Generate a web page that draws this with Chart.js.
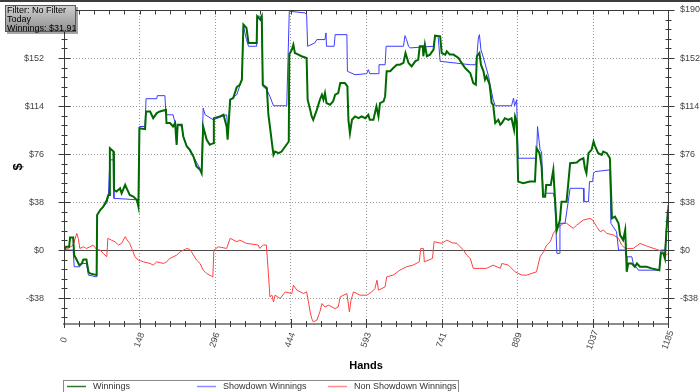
<!DOCTYPE html>
<html>
<head>
<meta charset="utf-8">
<script src="https://cdn.jsdelivr.net/npm/chart.js@4.4.0/dist/chart.umd.min.js"></script>
<style>
  html, body { margin: 0; padding: 0; background: #fff; }
</style>
</head>
<body>
<canvas id="chart" width="700" height="392"></canvas>
<script>
// values: [hand, dollars]
const winnings = [[0,0],[4,2.6],[10,2.6],[12,10],[18,10],[20,-4],[25,-7.9],[30,-11.9],[35,-10.6],[38,-7.4],[44,-7.4],[48,-17.2],[51,-18.5],[64,-19.8],[65,27.8],[71,31.7],[77,34.4],[84,39.7],[87,43.6],[89,43.6],[90,80.6],[97,78],[98,47.6],[103,46.3],[110,48.9],[113,44.9],[120,51.6],[123,48.9],[129,43.6],[136,42.3],[143,39.7],[146,34.4],[148,96.5],[159,95.7],[161,109.7],[169,109.7],[175,104.4],[182,108.4],[188,109.7],[200,111],[201,100.5],[208,100.5],[214,97.8],[218,100.5],[221,83.3],[223,99.2],[231,99.2],[234,89.9],[241,82],[247,79.3],[254,74],[260,66.1],[267,63.5],[270,60.8],[273,97.8],[280,87.3],[286,83.3],[293,84.6],[294,104.4],[306,105.8],[313,107.1],[319,97.8],[321,87.3],[326,119],[332,120.3],[339,129],[345,130.9],[349,134.8],[352,178.5],[358,175.8],[362,163.9],[378,163.9],[379,185.1],[385,182.4],[388,185.1],[390,130.9],[398,128.2],[401,107.1],[404,97.8],[408,84.6],[411,75.4],[414,78],[421,76.7],[427,78],[434,82],[441,85.9],[442,154.7],[447,158.6],[450,162.6],[453,156],[460,154.7],[466,153.4],[476,152],[478,119],[483,111],[486,105.8],[489,103.1],[496,111],[502,119],[506,123],[509,119],[512,124.3],[515,116.3],[522,115],[528,117.7],[532,123],[538,124.3],[542,132.2],[551,132.2],[556,129.6],[558,103.1],[561,92.5],[565,103.1],[571,105.8],[578,104.4],[584,105.8],[591,104.4],[597,107.1],[600,103.1],[607,103.1],[613,113.7],[617,105.8],[620,116.3],[627,117.7],[630,121.6],[633,141.5],[640,141.5],[646,144.1],[653,146.7],[659,146.7],[666,148.1],[670,156],[676,148.1],[682,145.4],[689,149.4],[695,150.7],[698,161.3],[704,161.3],[705,153.4],[708,162.6],[712,153.4],[718,154.7],[725,158.6],[728,169.7],[738,169.2],[741,156],[748,154.7],[751,157.3],[757,154.7],[764,154.7],[774,152],[780,148.1],[787,144.1],[797,140.1],[803,132.2],[808,130.9],[810,153.4],[815,156],[818,146.7],[823,141.5],[826,134.8],[829,137.5],[835,130.9],[839,116.3],[842,115],[846,100.5],[852,103.1],[856,99.2],[859,100.5],[865,104.4],[872,103.1],[878,104.4],[883,95.2],[885,105.8],[888,101.8],[891,54.2],[901,52.9],[914,54.2],[924,54.2],[927,80.6],[933,76.7],[937,66.1],[940,42.3],[944,42.3],[946,51.6],[955,51.6],[960,63.5],[963,42.3],[967,15.9],[973,23.8],[976,38.3],[986,38.3],[993,68.7],[1006,69.3],[1012,71.4],[1019,72.7],[1022,64.8],[1025,60.8],[1029,76.7],[1035,79.3],[1039,85.9],[1042,82],[1048,76.7],[1055,75.4],[1058,78],[1065,76.7],[1071,72.7],[1075,25.1],[1081,26.4],[1088,21.2],[1091,11.9],[1097,7.9],[1101,15.9],[1103,-5.3],[1104,-17.2],[1107,-10.6],[1114,-10.6],[1120,-13.2],[1124,-10.6],[1130,-13.2],[1143,-13.2],[1153,-14.5],[1168,-15.9],[1171,-2.6],[1176,-2.6],[1179,-6.6],[1182,15.9],[1185,31.91]];

const showdown = [[0,0],[18,0],[20,-13.2],[31,-13.2],[35,-10.6],[44,-10.6],[48,-19.8],[64,-21.2],[65,27.8],[71,31.7],[84,37],[87,42.3],[90,71.4],[97,71.4],[98,41],[146,39.7],[148,97.8],[159,97.8],[161,119.8],[182,119.8],[183,122.2],[198,122.2],[200,107.1],[214,107.1],[218,100.5],[221,83.3],[223,99.2],[231,97.8],[234,89.9],[241,82],[254,74],[270,62.1],[273,112.4],[277,107.1],[293,103.1],[319,107.1],[322,93.9],[326,119],[339,123],[349,134.8],[352,177.2],[358,166.6],[362,161.3],[378,161.3],[379,185.1],[388,185.1],[390,129.6],[398,126.9],[404,121.6],[411,114.2],[437,114.2],[442,189],[473,187.7],[476,186.4],[478,161.3],[492,163.9],[496,166.6],[512,166.6],[514,171.9],[515,161.3],[530,161.3],[532,170.5],[555,170.5],[556,141.5],[571,138.8],[594,139.6],[597,142.8],[600,139.6],[617,139.6],[618,146.7],[630,146.7],[632,161.3],[666,161.3],[669,169.7],[672,166.6],[676,161.3],[679,160],[725,161.3],[728,169.2],[734,169.2],[738,149.4],[797,146.7],[808,146.7],[810,153.4],[813,167.9],[815,170.5],[818,158.6],[823,152],[833,137.5],[836,130.9],[842,119],[846,114.2],[878,114.2],[882,120.3],[884,114.2],[888,119],[891,72.7],[927,72.7],[929,97.8],[934,79.3],[937,78],[940,42.3],[946,45],[960,45],[963,39.7],[967,-2.6],[972,-2.6],[973,21.2],[983,21.2],[993,48.9],[1019,48.9],[1020,38.3],[1029,38.3],[1031,54.2],[1037,54.2],[1039,60.8],[1042,62.1],[1071,63.5],[1073,21.2],[1084,14.5],[1088,0],[1101,0],[1103,-5.3],[1114,-5.3],[1117,-10.6],[1127,-15.9],[1168,-15.9],[1171,0],[1179,0],[1182,15.9],[1185,35.7]];

const nonShowdown = [[0,0],[8,1.3],[18,4],[25,13.2],[28,9.3],[31,1.3],[38,2.6],[44,1.3],[51,2.6],[57,4],[64,0.5],[71,0],[77,-2.6],[84,-5.3],[86,9.3],[93,7.9],[100,6.6],[107,4],[113,5.3],[120,10.6],[124,7.9],[129,5.3],[133,1.3],[139,-5.3],[146,-7.9],[156,-9.3],[169,-10.6],[175,-11.9],[182,-9.3],[195,-10.6],[201,-9.3],[208,-6.6],[221,-4],[228,-1.3],[241,1.3],[247,0.5],[250,-1.3],[260,-7.9],[267,-10.6],[273,-15.9],[280,-18.5],[292,-21.2],[294,0],[303,2.6],[319,1.3],[326,9.3],[339,6.6],[345,7.9],[358,5.3],[381,4],[384,1.3],[391,4],[397,4],[401,-18.5],[404,-37],[408,-35.7],[411,-41],[414,-35.7],[424,-38.3],[434,-33.1],[447,-34.4],[450,-27.8],[457,-31.7],[470,-34.4],[476,-33.1],[479,-39.7],[483,-48.9],[486,-54.2],[489,-56.8],[496,-55.5],[502,-48.9],[506,-42.3],[512,-45],[519,-43.6],[532,-46.3],[538,-45],[542,-37],[555,-34.4],[560,-48.9],[563,-39.7],[568,-33.1],[581,-35.7],[594,-35.7],[604,-33.1],[610,-30.4],[614,-23.8],[617,-31.7],[630,-29.1],[633,-21.2],[646,-19.8],[659,-15.9],[672,-13.2],[685,-11.9],[697,-9.3],[700,1.3],[705,1.3],[707,-9.3],[723,-6.6],[726,6.6],[741,5.3],[751,7.9],[761,5.8],[771,5.3],[777,2.6],[784,0],[790,-4],[797,-6.6],[803,-14.5],[816,-14.5],[829,-14.5],[842,-11.9],[856,-14.5],[859,-10.6],[872,-11.9],[885,-17.2],[898,-19.8],[908,-19.8],[927,-17.2],[934,-5.3],[941,-1.3],[947,4],[954,6.6],[960,13.2],[967,17.2],[980,21.2],[986,21.2],[999,17.2],[1006,19.8],[1019,23.8],[1032,25.1],[1037,23.8],[1045,18.5],[1052,14.5],[1058,15.9],[1065,13.2],[1078,11.9],[1088,9.3],[1094,4],[1101,1.3],[1117,1.3],[1130,5.3],[1143,3.2],[1163,0.5],[1176,-1.3],[1182,-4],[1185,-2.6]];

const xTicks = [0, 148, 296, 444, 593, 741, 889, 1037, 1185];
const yTicks = [-38, 0, 38, 76, 114, 152, 190];
const infoLines = ["Filter: No Filter", "Today", "Winnings: $31.91"];

const FONT = "'Liberation Sans', Arial, sans-serif";
const money = v => (v < 0 ? "-$" : "$") + Math.abs(v);
const toXY = arr => arr.map(p => ({ x: p[0], y: p[1] }));

// grid, axes, ticks, titles, legend box and info box
const decor = {
  id: "decor",
  beforeDatasetsDraw(chart) {
    const { ctx, chartArea: a, scales: { x, y } } = chart;
    ctx.save();
    ctx.lineWidth = 1;
    ctx.strokeStyle = "#9a9a9a";
    ctx.setLineDash([1, 2]);
    xTicks.slice(1, -1).forEach(v => {
      const px = Math.round(x.getPixelForValue(v)) + 0.5;
      ctx.beginPath(); ctx.moveTo(px, a.top); ctx.lineTo(px, a.bottom); ctx.stroke();
    });
    yTicks.forEach(v => {
      if (v === 0 || v >= 190) return;
      const py = Math.round(y.getPixelForValue(v)) + 0.5;
      ctx.beginPath(); ctx.moveTo(a.left, py); ctx.lineTo(a.right, py); ctx.stroke();
    });
    ctx.setLineDash([]);
    ctx.strokeStyle = "#4a4a4a";
    const zy = Math.round(y.getPixelForValue(0)) + 0.5;
    ctx.beginPath(); ctx.moveTo(a.left, zy); ctx.lineTo(a.right, zy); ctx.stroke();
    ctx.restore();
  },
  afterDraw(chart) {
    const { ctx, chartArea: a, scales: { x, y } } = chart;
    const L = Math.round(a.left) + 0.5, R = Math.round(a.right) + 0.5;
    const T = Math.round(a.top) + 0.5, B = Math.round(a.bottom);
    ctx.save();

    // frame line at the very top
    ctx.fillStyle = "#3c3c3c";
    ctx.fillRect(0, 0, 700, 2);

    // axes
    ctx.lineWidth = 1;
    ctx.strokeStyle = "#3a3a3a";
    ctx.beginPath();
    ctx.moveTo(L, T); ctx.lineTo(R, T);
    ctx.moveTo(L, T); ctx.lineTo(L, B);
    ctx.moveTo(R, T); ctx.lineTo(R, B);
    ctx.stroke();
    ctx.fillStyle = "#8c8c8c";
    ctx.fillRect(a.left - 1, B - 1, a.right - a.left + 2, 2);

    // y ticks, major + minor, both sides
    ctx.strokeStyle = "#3a3a3a";
    ctx.beginPath();
    for (let v = -38 - 7.6 * 2; v <= 190.01; v += 7.6) {
      const py = Math.round(y.getPixelForValue(v)) + 0.5;
      if (py < a.top - 1 || py > a.bottom) continue;
      const major = yTicks.some(t => Math.abs(t - v) < 0.01);
      const len = major ? 6 : 3;
      ctx.moveTo(L - len, py); ctx.lineTo(L + len, py);
      ctx.moveTo(R - len, py); ctx.lineTo(R + len, py);
    }
    // x ticks bottom and top
    const step = 1185 / 40;
    for (let i = 0; i <= 40; i++) {
      const px = Math.round(x.getPixelForValue(i * step)) + 0.5;
      const major = i % 5 === 0;
      ctx.moveTo(px, B - (major ? 5 : 3)); ctx.lineTo(px, B + (major ? 4 : 3));
      ctx.moveTo(px, T); ctx.lineTo(px, T + 4);
    }
    ctx.stroke();

    // x tick labels, rotated and centred on the tick
    ctx.fillStyle = "#444";
    ctx.font = "9px " + FONT;
    ctx.textAlign = "center";
    ctx.textBaseline = "middle";
    xTicks.forEach(v => {
      const px = x.getPixelForValue(v);
      ctx.save();
      ctx.translate(px, B + 16);
      ctx.rotate(-70 * Math.PI / 180);
      ctx.fillText(String(v), 0, 0);
      ctx.restore();
    });

    // axis titles
    ctx.fillStyle = "#000";
    ctx.font = "bold 11px " + FONT;
    ctx.fillText("Hands", (a.left + a.right) / 2, 366);
    ctx.save();
    ctx.translate(18, (a.top + a.bottom) / 2);
    ctx.rotate(-Math.PI / 2);
    ctx.font = "bold 13px " + FONT;
    ctx.fillText("$", 0, 0);
    ctx.restore();

    // legend box
    ctx.fillStyle = "#fff";
    ctx.fillRect(63.5, 380.5, 395, 14);
    ctx.strokeStyle = "#8a8a8a";
    ctx.strokeRect(63.5, 380.5, 395, 14);
    const legendX = [67, 197, 328];
    ctx.font = "9px " + FONT;
    ctx.textAlign = "left";
    chart.data.datasets.forEach((ds, i) => {
      ctx.strokeStyle = ds.legendColor;
      ctx.lineWidth = 1.5;
      ctx.beginPath(); ctx.moveTo(legendX[i], 386.5); ctx.lineTo(legendX[i] + 19, 386.5); ctx.stroke();
      ctx.fillStyle = "#333";
      ctx.fillText(ds.label, legendX[i] + 26, 386.5);
    });

    // info box top-left
    ctx.fillStyle = "rgba(0,0,0,0.35)";
    ctx.fillRect(7, 7, 71, 27);
    const g = ctx.createLinearGradient(0, 5, 0, 32);
    g.addColorStop(0, "#d0d0d0");
    g.addColorStop(1, "#8e8e8e");
    ctx.fillStyle = g;
    ctx.fillRect(5, 5, 71, 27);
    ctx.lineWidth = 1;
    ctx.strokeStyle = "#5a5a5a";
    ctx.strokeRect(5.5, 5.5, 70, 26);
    ctx.fillStyle = "#000";
    ctx.font = "9px " + FONT;
    infoLines.forEach((t, i) => ctx.fillText(t, 7, 10.5 + i * 9));

    ctx.restore();
  }
};

const yScale = (position, width, padding) => ({
  type: "linear",
  position,
  min: -58.5,
  max: 190,
  afterBuildTicks: s => { s.ticks = yTicks.map(v => ({ value: v })); },
  afterFit: s => { s.width = width; s.paddingTop = 0; s.paddingBottom = 0; },
  ticks: {
    padding,
    color: "#444",
    font: { family: FONT, size: 9 },
    callback: v => money(v)
  },
  grid: { display: false },
  border: { display: false }
});

new Chart(document.getElementById("chart"), {
  type: "line",
  data: {
    datasets: [
      { label: "Winnings", data: toXY(winnings), borderColor: "#006a00", legendColor: "#2d7a2d", borderWidth: 2, yAxisID: "y" },
      { label: "Showdown Winnings", data: toXY(showdown), borderColor: "#3c3cff", legendColor: "#8c8cff", borderWidth: 1, yAxisID: "y" },
      { label: "Non Showdown Winnings", data: toXY(nonShowdown), borderColor: "#ff4040", legendColor: "#ff8c8c", borderWidth: 1, yAxisID: "y" }
    ]
  },
  options: {
    responsive: false,
    animation: false,
    layout: { padding: { top: 10, left: 0, right: 0, bottom: 0 } },
    elements: { point: { radius: 0 }, line: { tension: 0 } },
    plugins: { legend: { display: false }, tooltip: { enabled: false } },
    scales: {
      x: {
        type: "linear",
        min: 0,
        max: 1185,
        afterBuildTicks: s => { s.ticks = xTicks.map(v => ({ value: v })); },
        afterFit: s => { s.height = 68; s.paddingLeft = 0; s.paddingRight = 0; },
        ticks: { display: false },
        grid: { display: false },
        border: { display: false }
      },
      y: yScale("left", 64, 12),
      y2: yScale("right", 32, 4)
    }
  },
  plugins: [decor]
});
</script>
</body>
</html>
